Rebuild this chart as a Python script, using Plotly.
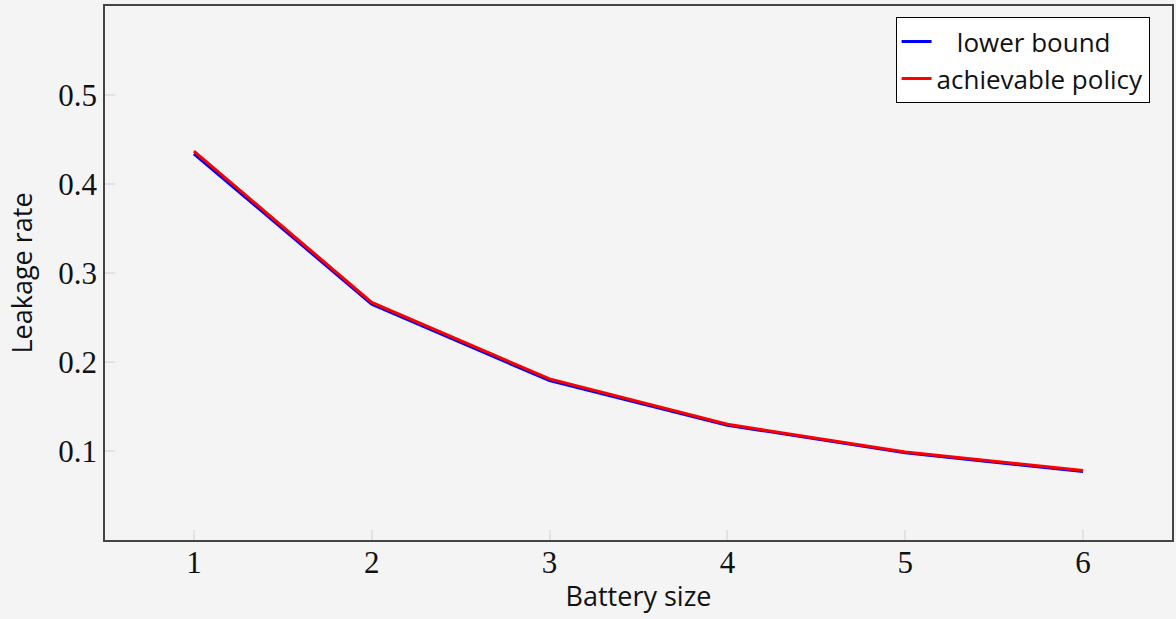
import plotly.graph_objects as go

battery_size = [1, 2, 3, 4, 5, 6]
lower_bound = [0.434, 0.265, 0.179, 0.129, 0.098, 0.077]
achievable_policy = [0.437, 0.267, 0.181, 0.130, 0.099, 0.078]
x_ticks = [1, 2, 3, 4, 5, 6]
y_ticks = [0.1, 0.2, 0.3, 0.4, 0.5]

fig = go.Figure()
fig.add_trace(go.Scatter(x=battery_size, y=lower_bound, mode="lines",
                         name="   lower bound", line=dict(color="#0000ff", width=3)))
fig.add_trace(go.Scatter(x=battery_size, y=achievable_policy, mode="lines",
                         name="achievable policy", line=dict(color="#ff0000", width=3)))

axis_common = dict(showline=True, linecolor="#444444", linewidth=1.5, mirror=True,
                   showgrid=False, zeroline=False, ticks="inside", ticklen=10,
                   tickcolor="#e2e2e2", tickwidth=1.5,
                   tickfont=dict(family="Liberation Serif", size=31, color="#111111"))

fig.update_layout(
    width=1176, height=619,
    paper_bgcolor="#f4f4f4", plot_bgcolor="#f4f4f4",
    margin=dict(l=105, r=2, t=6, b=79),
    font=dict(family="Open Sans", size=27, color="#111111"),
    xaxis=dict(range=[0.5, 6.5], tickvals=x_ticks, ticklabelstandoff=-6,
               title=dict(text="Battery size", standoff=8, font=dict(family="Open Sans", size=27)),
               **axis_common),
    yaxis=dict(range=[0, 0.6], tickvals=y_ticks, tickformat=".1f",
               title=dict(text="Leakage rate", standoff=18, font=dict(family="Open Sans", size=27)),
               **axis_common),
    legend=dict(x=0.979, y=0.979, xanchor="right", yanchor="top",
                bgcolor="#ffffff", bordercolor="#000000", borderwidth=1,
                font=dict(family="Open Sans", size=26), itemwidth=30, tracegroupgap=0),
    showlegend=True,
)

fig.write_html("out.html", config={"displayModeBar": False},
               post_script="document.body.style.margin='0';document.body.style.padding='0';")
